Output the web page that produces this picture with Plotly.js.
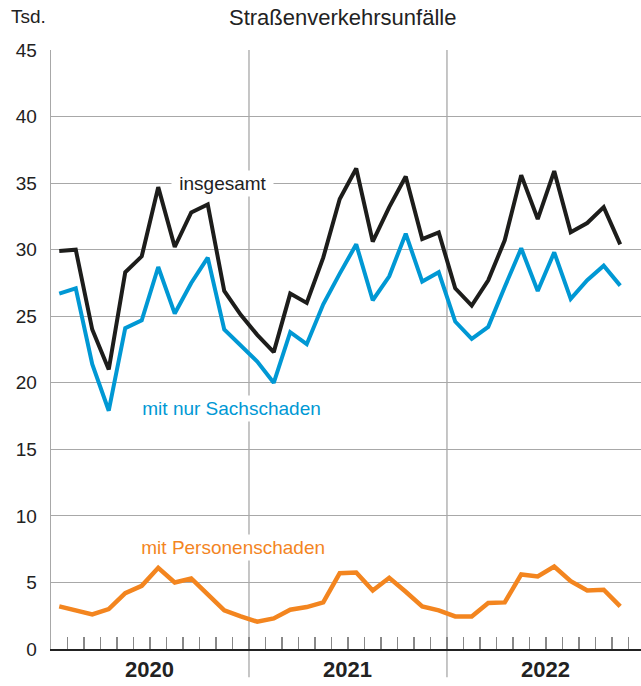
<!DOCTYPE html>
<html>
<head>
<meta charset="utf-8">
<script src="https://cdn.plot.ly/plotly-3.0.1.min.js"></script>
<style>
  html, body { margin: 0; padding: 0; background: #fff; }
  #chart { width: 641px; height: 686px; }
</style>
</head>
<body>
<div id="chart"></div>
<script>
// ---- data (Tsd.) ----
const months = [
  "2020-01","2020-02","2020-03","2020-04","2020-05","2020-06","2020-07","2020-08","2020-09","2020-10","2020-11","2020-12",
  "2021-01","2021-02","2021-03","2021-04","2021-05","2021-06","2021-07","2021-08","2021-09","2021-10","2021-11","2021-12",
  "2022-01","2022-02","2022-03","2022-04","2022-05","2022-06","2022-07","2022-08","2022-09","2022-10","2022-11"
];
const insgesamt = [
  29.9, 30.0, 24.0, 21.0, 28.3, 29.5, 34.7, 30.2, 32.8, 33.4, 26.9, 25.1,
  23.6, 22.3, 26.7, 26.0, 29.4, 33.8, 36.1, 30.6, 33.2, 35.5, 30.8, 31.3,
  27.1, 25.8, 27.7, 30.7, 35.6, 32.3, 35.9, 31.3, 32.0, 33.2, 30.4
];
const sachschaden = [
  26.7, 27.1, 21.4, 17.9, 24.1, 24.7, 28.7, 25.2, 27.5, 29.4, 24.0, 22.8,
  21.6, 20.0, 23.8, 22.9, 25.9, 28.2, 30.4, 26.2, 28.0, 31.2, 27.6, 28.3,
  24.6, 23.3, 24.2, 27.2, 30.1, 26.9, 29.8, 26.3, 27.7, 28.8, 27.3
];
const personenschaden = [
  3.2, 2.9, 2.6, 3.0, 4.2, 4.75, 6.1, 5.0, 5.3, 4.1, 2.9, 2.45,
  2.05, 2.3, 2.95, 3.15, 3.5, 5.7, 5.75, 4.4, 5.35, 4.3, 3.2, 2.9,
  2.45, 2.45, 3.45, 3.5, 5.6, 5.45, 6.2, 5.1, 4.4, 4.45, 3.2
];
const years = ["2020", "2021", "2022"];
const yTicks = [0, 5, 10, 15, 20, 25, 30, 35, 40, 45];
const seriesNames = ["insgesamt", "mit nur Sachschaden", "mit Personenschaden"];
const chartTitle = "Straßenverkehrsunfälle";
const unitLabel = "Tsd.";

// ---- styles ----
const FONT = "Liberation Sans, Arial, sans-serif";
const C_BLACK = "#1d1d1b";
const C_BLUE = "#0098d4";
const C_ORANGE = "#f3851f";
const C_GRID = "#a8a8a8";
const NB = "\u00a0";

const traces = [
  { x: months, y: insgesamt, type: "scatter", mode: "lines", name: seriesNames[0],
    line: { color: C_BLACK, width: 4, shape: "linear" } },
  { x: months, y: sachschaden, type: "scatter", mode: "lines", name: seriesNames[1],
    line: { color: C_BLUE, width: 4 } },
  { x: months, y: personenschaden, type: "scatter", mode: "lines", name: seriesNames[2],
    line: { color: C_ORANGE, width: 4.5 } }
];

const shapes = years.slice(1).map((y, i) => ({
  type: "line", xref: "x", yref: "paper",
  x0: (i + 1) * 12 - 0.5, x1: (i + 1) * 12 - 0.5,
  y0: -0.047, y1: 1,
  line: { color: C_GRID, width: 1.3 },
  layer: "below"
}));

const annotations = [
  ...years.map((y, i) => ({
    text: y, xref: "x", yref: "paper", x: i * 12 + 5.5, y: -0.034,
    xanchor: "center", yanchor: "middle", showarrow: false,
    font: { family: FONT, size: 22, color: "#222", weight: "bold" }
  })),
  { text: NB + seriesNames[0] + NB, xref: "x", yref: "y", x: 9.9, y: 35.0,
    xanchor: "center", yanchor: "middle", showarrow: false, bgcolor: "#fff", borderpad: 2,
    font: { family: FONT, size: 19, color: "#222" } },
  { text: NB + seriesNames[1] + NB, xref: "x", yref: "y", x: 10.45, y: 18.1,
    xanchor: "center", yanchor: "middle", showarrow: false, bgcolor: "#fff", borderpad: 2,
    font: { family: FONT, size: 19, color: C_BLUE } },
  { text: NB + seriesNames[2] + NB, xref: "x", yref: "y", x: 10.55, y: 7.65,
    xanchor: "center", yanchor: "middle", showarrow: false, bgcolor: "#fff", borderpad: 2,
    font: { family: FONT, size: 19, color: C_ORANGE } },
  { text: unitLabel, xref: "paper", yref: "paper", x: -0.071, y: 1.056,
    xanchor: "left", yanchor: "middle", showarrow: false,
    font: { family: FONT, size: 19, color: "#222" } }
];

const layout = {
  width: 641, height: 686,
  margin: { l: 51, r: 0, t: 50, b: 37, pad: 0 },
  paper_bgcolor: "#fff", plot_bgcolor: "#fff",
  showlegend: false,
  font: { family: FONT, color: "#222" },
  title: { text: chartTitle, xref: "container", yref: "container",
           x: 229 / 641, xanchor: "left", y: 1 - 17 / 686, yanchor: "middle",
           font: { family: FONT, size: 22, color: "#222" } },
  xaxis: {
    type: "category", range: [-0.5, 35.26],
    tickmode: "linear", tick0: 0, dtick: 1, tickson: "boundaries",
    ticks: "inside", ticklen: 12, tickwidth: 1.2, tickcolor: "#888",
    showticklabels: false, showgrid: false, zeroline: false,
    showline: true, linecolor: "#222", linewidth: 2.2, fixedrange: true
  },
  yaxis: {
    range: [0, 45], tickvals: yTicks, ticktext: yTicks.map(String),
    ticks: "", ticklabelstandoff: 9,
    showgrid: true, gridcolor: C_GRID, gridwidth: 1.2,
    showline: true, linecolor: C_GRID, linewidth: 1.3, zeroline: false,
    tickfont: { family: FONT, size: 19, color: "#222" }, fixedrange: true
  },
  shapes: shapes,
  annotations: annotations
};

Plotly.newPlot("chart", traces, layout, { staticPlot: true, displayModeBar: false });
</script>
</body>
</html>
